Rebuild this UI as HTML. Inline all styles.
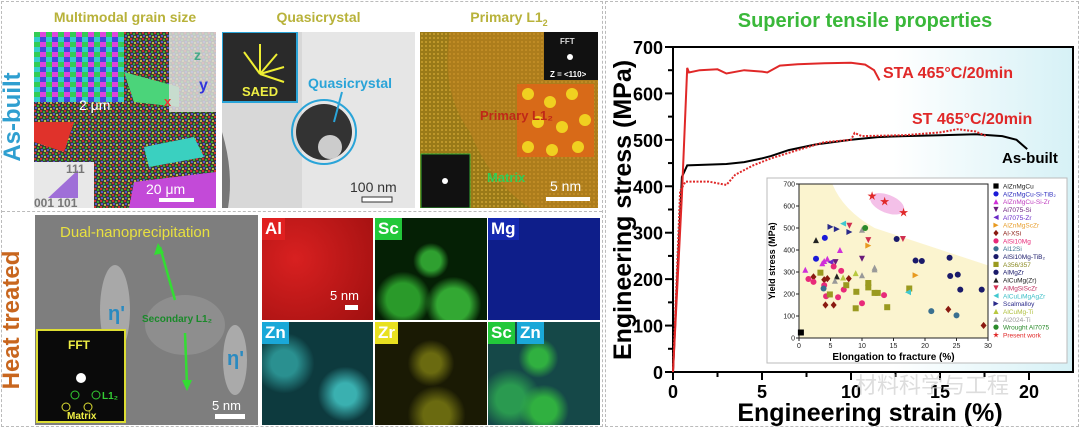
<!DOCTYPE html>
<html><head><meta charset="utf-8">
<style>
body{margin:0;width:1080px;height:429px;overflow:hidden;background:#fff;font-family:"Liberation Sans",Arial,sans-serif;position:relative}
.a{position:absolute}
.lbl{position:absolute;top:0;font-weight:bold;color:#fff;font-size:17px;padding:0 3px;line-height:22px}
</style></head><body>
<div class="a" style="left:1px;top:1px;width:600px;height:424px;border:1px dashed #bbb"></div>
<div class="a" style="left:2px;top:211px;width:600px;border-top:1px dashed #bbb"></div>
<div class="a" style="left:605px;top:1px;width:472px;height:424px;border:1px dashed #bbb"></div>

<div class="a" style="left:-42px;top:103px;width:110px;transform:rotate(-90deg);text-align:center;color:#2f9fd0;font-weight:bold;font-size:24px">As-built</div>
<div class="a" style="left:-58px;top:306px;width:140px;transform:rotate(-90deg);text-align:center;color:#c8661e;font-weight:bold;font-size:24px">Heat treated</div>

<div class="a" style="left:34px;top:9px;width:182px;text-align:center;color:#b8b23a;font-weight:bold;font-size:14px">Multimodal grain size</div>
<div class="a" style="left:222px;top:9px;width:193px;text-align:center;color:#b8b23a;font-weight:bold;font-size:14px">Quasicrystal</div>
<div class="a" style="left:420px;top:9px;width:178px;text-align:center;color:#b8b23a;font-weight:bold;font-size:14px">Primary L1<sub style="font-size:9px">2</sub></div>

<!-- EBSD -->
<svg class="a" style="left:34px;top:32px" width="182" height="176">
<defs><pattern id="spk" width="6" height="6" patternUnits="userSpaceOnUse"><rect width="6" height="6" fill="#3d3d35"/><rect x="0" y="0" width="2" height="2" fill="#c33"/><rect x="3" y="1" width="2" height="2" fill="#3a3"/><rect x="1" y="3" width="2" height="2" fill="#55c"/><rect x="4" y="4" width="2" height="2" fill="#bb4"/></pattern>
<pattern id="grn" width="12" height="10" patternUnits="userSpaceOnUse"><rect width="12" height="10" fill="#d43"/><rect x="0" y="0" width="6" height="5" fill="#3c5"/><rect x="6" y="5" width="6" height="5" fill="#44d"/><rect x="6" y="0" width="6" height="5" fill="#d4d"/><rect x="0" y="5" width="6" height="5" fill="#3cc"/></pattern></defs>
<rect width="182" height="176" fill="url(#spk)"/>
<rect width="90" height="70" fill="url(#grn)"/>
<path d="M90 40 L145 55 L145 75 L100 70Z" fill="#4bd47a"/>
<path d="M110 115 L160 105 L170 125 L115 135Z" fill="#3ad0c0"/>
<path d="M0 90 L40 90 L30 120 L0 110Z" fill="#e0322b"/>
<path d="M100 150 L182 140 L182 176 L95 176Z" fill="#c34ad8"/>
<rect x="135" y="0" width="47" height="80" fill="#ddd" opacity=".85"/>
<rect x="0" y="130" width="60" height="46" fill="#e8e8e8"/>
<path d="M14 166 L44 138 L44 166Z" fill="#9f6fd8"/>
<text x="160" y="28" fill="#4a8" font-size="14" font-weight="bold">z</text>
<text x="165" y="58" fill="#33d" font-size="16" font-weight="bold">y</text>
<text x="130" y="74" fill="#e33" font-size="13" font-weight="bold">x</text>
<text x="45" y="78" fill="#fff" font-size="14">2 μm</text>
<text x="32" y="141" fill="#777" font-size="12" font-weight="bold">111</text>
<text x="0" y="175" fill="#777" font-size="12" font-weight="bold">001 101</text>
<text x="112" y="162" fill="#fff" font-size="14">20 μm</text>
<rect x="125" y="166" width="35" height="4" fill="#fff"/>
</svg>

<!-- Quasicrystal -->
<svg class="a" style="left:222px;top:32px" width="193" height="176">
<rect width="193" height="176" fill="#d8d8d8"/>
<rect x="80" y="0" width="113" height="176" fill="#e6e6e6"/>
<path d="M0 100 Q12 140 6 176 L0 176Z" fill="#777"/>
<circle cx="102" cy="100" r="28" fill="#333"/><circle cx="108" cy="115" r="12" fill="#ccc"/>
<circle cx="102" cy="100" r="32" fill="none" stroke="#2aa4d8" stroke-width="2"/>
<rect x="0" y="0" width="75" height="70" fill="#2a2a2a" stroke="#2aa4d8" stroke-width="2"/>
<g stroke="#ee3" stroke-width="2"><line x1="38" y1="42" x2="22" y2="20"/><line x1="38" y1="42" x2="38" y2="12"/><line x1="38" y1="42" x2="55" y2="22"/><line x1="38" y1="42" x2="62" y2="35"/><line x1="38" y1="42" x2="62" y2="50"/></g>
<text x="20" y="64" fill="#ee4" font-size="13" font-weight="bold">SAED</text>
<text x="86" y="56" fill="#2aa4d8" font-size="14" font-weight="bold">Quasicrystal</text>
<line x1="120" y1="60" x2="112" y2="90" stroke="#2aa4d8" stroke-width="2"/>
<text x="128" y="160" fill="#333" font-size="14">100 nm</text>
<rect x="140" y="165" width="30" height="5" fill="#fff" stroke="#333"/>
</svg>

<!-- Primary L12 -->
<svg class="a" style="left:420px;top:32px" width="178" height="176">
<defs><pattern id="lat" width="4" height="4" patternUnits="userSpaceOnUse"><rect width="4" height="4" fill="#9a7a18"/><circle cx="2" cy="2" r="1" fill="#c9a030"/></pattern></defs>
<rect width="178" height="176" fill="url(#lat)"/>
<path d="M30 0 Q20 60 50 100 Q70 150 110 176 L178 176 L178 0Z" fill="#c08020" opacity=".5"/>
<rect x="124" y="0" width="54" height="48" fill="#111"/>
<text x="140" y="12" fill="#ddd" font-size="8" font-weight="bold">FFT</text>
<text x="130" y="45" fill="#fff" font-size="8" font-weight="bold">Z = &lt;110&gt;</text>
<circle cx="150" cy="25" r="3" fill="#fff"/>
<rect x="97" y="52" width="77" height="73" fill="#d86a18"/>
<g fill="#f0d020"><circle cx="108" cy="62" r="6"/><circle cx="130" cy="70" r="6"/><circle cx="152" cy="62" r="6"/><circle cx="118" cy="90" r="6"/><circle cx="142" cy="95" r="6"/><circle cx="165" cy="88" r="6"/><circle cx="108" cy="115" r="6"/><circle cx="132" cy="118" r="6"/><circle cx="158" cy="115" r="6"/></g>
<text x="60" y="88" fill="#c02818" font-size="13" font-weight="bold">Primary L1₂</text>
<rect x="1" y="122" width="49" height="54" fill="#111" stroke="#3a3" stroke-width="1"/>
<circle cx="25" cy="149" r="3" fill="#fff"/>
<text x="67" y="150" fill="#3c5" font-size="13" font-weight="bold">Matrix</text>
<text x="130" y="159" fill="#fff" font-size="14">5 nm</text>
<rect x="126" y="165" width="44" height="4" fill="#fff"/>
</svg>

<!-- HAADF -->
<svg class="a" style="left:35px;top:215px" width="223" height="210">
<rect width="223" height="210" fill="#7e7e7e"/>
<ellipse cx="80" cy="95" rx="15" ry="45" fill="#a8a8a8"/><ellipse cx="200" cy="145" rx="12" ry="35" fill="#aaa"/>
<ellipse cx="150" cy="110" rx="40" ry="30" fill="#8e8e8e"/>
<text x="25" y="22" fill="#e8e040" font-size="15">Dual-nanoprecipitation</text>
<line x1="140" y1="85" x2="125" y2="32" stroke="#3d3" stroke-width="2.5"/><path d="M123 28 L119 40 L129 38Z" fill="#3d3"/>
<line x1="150" y1="118" x2="152" y2="170" stroke="#3d3" stroke-width="2.5"/><path d="M152 176 L147 165 L157 165Z" fill="#3d3"/>
<text x="107" y="107" fill="#1a8a2a" font-size="10" font-weight="bold">Secondary L1₂</text>
<text x="73" y="105" fill="#2a8ac0" font-size="20" font-weight="bold">η'</text>
<text x="192" y="150" fill="#2a8ac0" font-size="20" font-weight="bold">η'</text>
<rect x="2" y="115" width="88" height="92" fill="#0a0a0a" stroke="#dd3" stroke-width="2"/>
<text x="33" y="134" fill="#ee4" font-size="12" font-weight="bold">FFT</text>
<circle cx="46" cy="163" r="5" fill="#fff"/>
<circle cx="40" cy="180" r="4" fill="none" stroke="#3c3"/><circle cx="61" cy="180" r="4" fill="none" stroke="#3c3"/>
<circle cx="31" cy="192" r="4" fill="none" stroke="#dd3"/><circle cx="53" cy="192" r="4" fill="none" stroke="#dd3"/>
<text x="67" y="184" fill="#3c3" font-size="10" font-weight="bold">L1₂</text>
<text x="32" y="204" fill="#ee4" font-size="10" font-weight="bold">Matrix</text>
<text x="177" y="195" fill="#fff" font-size="13">5 nm</text>
<rect x="180" y="199" width="30" height="5" fill="#fff"/>
</svg>

<!-- EDS maps -->
<div class="a" style="left:262px;top:218px;width:111px;height:102px;background:radial-gradient(circle at 30% 40%,#d82020,#a01010)"><span class="lbl" style="left:0;background:#e02020">Al</span>
<span class="a" style="left:68px;top:70px;color:#fff;font-size:13px">5 nm</span><span class="a" style="left:83px;top:87px;width:13px;height:5px;background:#fff"></span></div>
<div class="a" style="left:375px;top:218px;width:112px;height:102px;background:radial-gradient(circle at 50% 42%,#2fa030 12%,transparent 22%),radial-gradient(circle at 25% 80%,#2a9a2a 14%,transparent 24%),radial-gradient(circle at 70% 85%,#33a833 14%,transparent 24%),#052005"><span class="lbl" style="left:0;background:#22c83a">Sc</span></div>
<div class="a" style="left:488px;top:218px;width:112px;height:102px;background:#0e1e8a"><span class="lbl" style="left:0;background:#1428b0">Mg</span></div>
<div class="a" style="left:262px;top:322px;width:111px;height:103px;background:radial-gradient(circle at 75% 70%,#3ab0b0 10%,transparent 25%),radial-gradient(circle at 20% 40%,#2a9090 12%,transparent 28%),#0d3a3e"><span class="lbl" style="left:0;background:#1aa8d8">Zn</span></div>
<div class="a" style="left:375px;top:322px;width:112px;height:103px;background:radial-gradient(circle at 50% 40%,#6a6a10 12%,transparent 28%),radial-gradient(circle at 55% 90%,#6a6a10 12%,transparent 26%),#1a1a04"><span class="lbl" style="left:0;background:#e8e020">Zr</span></div>
<div class="a" style="left:488px;top:322px;width:112px;height:103px;background:radial-gradient(circle at 45% 35%,#30b040 10%,transparent 22%),radial-gradient(circle at 50% 85%,#30b040 12%,transparent 24%),radial-gradient(circle at 20% 75%,#2a9a50 12%,transparent 26%),#154848"><span class="lbl" style="left:0;background:#22c83a">Sc</span><span class="lbl" style="left:29px;background:#1aa8d8">Zn</span></div>

<!-- Chart -->
<svg class="a" id="chart" style="left:0;top:0" width="1080" height="429">
<defs><linearGradient id="bg" x1="0" x2="1"><stop offset="0.55" stop-color="#fff"/><stop offset="1" stop-color="#d6f1f6"/></linearGradient></defs>
<rect x="673" y="47" width="400" height="325" fill="url(#bg)"/>
<text x="865" y="27" text-anchor="middle" fill="#3ab83a" font-size="20" font-weight="bold">Superior tensile properties</text>
<g id="main"></g>
<g id="inset"></g>
<text x="855" y="393" fill="#cfcfcf" fill-opacity=".7" font-size="22" font-family="'Liberation Sans','Noto Sans CJK SC',sans-serif">材料科学与工程</text>
<text x="870" y="421" text-anchor="middle" font-size="25" font-weight="bold">Engineering strain (%)</text>
<text transform="translate(631,210) rotate(-90)" text-anchor="middle" font-size="25" font-weight="bold">Engineering stress (MPa)</text>
<text x="883" y="78" fill="#e02828" font-size="16" font-weight="bold">STA 465°C/20min</text>
<text x="912" y="124" fill="#e02828" font-size="16" font-weight="bold">ST 465°C/20min</text>
<text x="1002" y="163" fill="#000" font-size="15" font-weight="bold">As-built</text>
</svg>

<script>
const xTicks=[0,5,10,15,20];
const yTicks=[0,100,200,300,400,500,600,700];
const staStrain=[0,0.5,0.8,0.9,1.5,2.5,3,4,5,5.3,6,7,8.5,10,10.8,11.3,11.6];
const staStress=[0,380,655,645,650,652,643,650,647,645,660,663,665,666,662,650,628];
const stStrain=[0,0.4,0.7,2,3,3.5,4.5,5.5,7,8.5,10,10.2,10.6,13,15,16,17,17.6];
const stStress=[0,390,410,410,403,425,445,460,478,495,500,515,508,510,516,523,518,508];
const abStrain=[0,0.5,0.8,3,4,5,5.5,6.5,8,10,11.5,13,15,17,18.5,19.3,19.9];
const abStress=[0,420,445,448,452,460,465,478,490,500,506,508,510,512,508,500,480];

const insetX=[0,5,10,15,20,25,30];
const insetY=[0,100,200,300,400,500,600,700];
const legendNames=["AlZnMgCu","AlZnMgCu-Si-TiB₂","AlZnMgCu-Si-Zr","Al7075-Si","Al7075-Zr","AlZnMgScZr","Al-XSi","AlSi10Mg","Al12Si","AlSi10Mg-TiB₂","A356/357","AlMgZr","AlCuMg(Zr)","AlMgSiScZr","AlCuLiMgAgZr","Scalmalloy","AlCuMg-Ti","Al2024-Ti","Wrought Al7075","Present work"];
const pElong=[0.3,2.7,4.1,1,3.7,4,4.5,6.5,5.8,10,5,11,18.5,2.3,4,4.2,5.5,4.5,7.9,23.7,29.3,1.5,2.3,4.3,5.5,6.2,6.7,7.1,10,13.5,4,3.9,21,25,15.5,3.4,4.9,9.1,9,11,11,12,12.5,14,17.5,7.5,18.5,19.5,23.9,24,25.2,25.6,29,2.7,6,8,11,16.5,7,17.3,5,6,8,9,7,10,12,12,10,5.7,10.5,11.6,13.6,16.6];
const pYield=[25,360,455,310,340,350,360,400,345,360,345,420,285,278,265,150,150,270,270,130,57,268,255,190,325,185,305,220,158,195,240,225,122,103,450,297,198,210,135,250,230,205,205,140,225,240,352,350,365,282,288,220,220,445,280,510,445,450,520,208,505,495,482,295,275,285,320,312,492,260,500,645,620,570];
const pSeries=[0,1,1,2,2,2,2,2,3,3,4,5,5,6,6,6,6,6,6,6,6,7,7,7,7,7,7,7,7,7,7,8,8,8,9,10,10,10,10,10,10,10,10,10,10,10,11,11,11,11,11,11,11,12,12,13,13,13,14,14,15,15,15,16,16,17,17,17,17,17,18,19,19,19];
const sColor=["#000","#1a1ad8","#d030d8","#6a1a7a","#6a2ac8","#e89a20","#8a1a10","#e82a7a","#3a7090","#1a1a6a","#9a9a20","#1a1a6a","#222","#d03050","#40c8d0","#2a2a8a","#b8c840","#999","#2a8a2a","#e02828"];
const sShape=["sq","ci","tu","td","tl","tr","di","ci","ci","hc","sq","hc","tu","td","tl","tr","tu","tu","hc","st"];
const sTextColor=["#222","#3030c0","#c040c0","#6a1a7a","#6a2ac8","#e8a030","#8a1a10","#e82a7a","#3a7090","#1a1a6a","#8a8a20","#1a1a6a","#222","#c03060","#40c0c8","#2a2a8a","#b0c040","#999","#2a8a2a","#e02828"];

const NS="http://www.w3.org/2000/svg";
function mk(tag,attrs,parent){const e=document.createElementNS(NS,tag);for(const k in attrs)e.setAttribute(k,attrs[k]);parent.appendChild(e);return e;}
const X=v=>673+v*17.8, Y=v=>372-v*0.4643;
const main=document.getElementById('main');
mk('rect',{x:673,y:47,width:400,height:325,fill:'none',stroke:'#000','stroke-width':2},main);
xTicks.forEach(t=>{const l=mk('line',{x1:X(t),x2:X(t),y1:372,y2:380,stroke:'#000','stroke-width':2},main);


const tx=mk('text',{x:X(t),y:398,'text-anchor':'middle','font-size':18,'font-weight':'bold'},main);tx.textContent=t;

});
for(let t=2.5;t<=22;t+=5){mk('line',{x1:X(t),x2:X(t),y1:372,y2:377,stroke:'#000','stroke-width':2},main);}
yTicks.forEach(t=>{const l=mk('line',{x1:665,x2:673,y1:Y(t),y2:Y(t),stroke:'#000','stroke-width':2},main);


const tx=mk('text',{x:663,y:Y(t)+7,'text-anchor':'end','font-size':18,'font-weight':'bold'},main);tx.textContent=t;

});
for(let t=50;t<700;t+=100){mk('line',{x1:668,x2:673,y1:Y(t),y2:Y(t),stroke:'#000','stroke-width':2},main);}
function curve(xs,ys,color,dash,name){const d=xs.map((x,i)=>(i?'L':'M')+X(x).toFixed(1)+' '+Y(ys[i]).toFixed(1)).join(' ');
const p=mk('path',{d:d,fill:'none',stroke:color,'stroke-width':2,'stroke-dasharray':dash},main);

}
curve(abStrain,abStress,'#000','none','as-built-curve');
curve(stStrain,stStress,'#e02828','2 1.5','st-curve');
curve(staStrain,staStress,'#e02828','none','sta-curve');

const ins=document.getElementById('inset');
const IX=v=>799+v*6.3, IY=v=>338-v*0.22;
const box=mk('rect',{x:767,y:178,width:300,height:185,fill:'#fff',stroke:'#bbb','stroke-width':1},ins);


mk('rect',{x:IX(0),y:IY(700),width:IX(30)-IX(0),height:IY(0)-IY(700),fill:'#fbf4cf'},ins);
mk('path',{d:`M${IX(5.3)} ${IY(700)} Q${IX(7)} ${IY(580)} ${IX(12)} ${IY(500)} L${IX(30)} ${IY(330)} L${IX(30)} ${IY(700)}Z`,fill:'#fff'},ins);
mk('ellipse',{cx:IX(14),cy:IY(610),rx:18,ry:9,transform:`rotate(22 ${IX(14)} ${IY(610)})`,fill:'#f4c0e8'},ins);
mk('rect',{x:IX(0),y:IY(700),width:IX(30)-IX(0),height:IY(0)-IY(700),fill:'none',stroke:'#222','stroke-width':1},ins);
insetX.forEach(t=>{mk('line',{x1:IX(t),x2:IX(t),y1:IY(0),y2:IY(0)+3,stroke:'#222'},ins);
const tx=mk('text',{x:IX(t),y:IY(0)+10,'text-anchor':'middle','font-size':7,fill:'#222'},ins);tx.textContent=t;

});
insetY.forEach(t=>{mk('line',{x1:IX(0)-3,x2:IX(0),y1:IY(t),y2:IY(t),stroke:'#222'},ins);
const tx=mk('text',{x:IX(0)-4,y:IY(t)+2.5,'text-anchor':'end','font-size':7,fill:'#222'},ins);tx.textContent=t;

});
const ixl=mk('text',{x:IX(15),y:360,'text-anchor':'middle','font-size':10,'font-weight':'bold'},ins);ixl.textContent='Elongation to fracture (%)';


const iyl=mk('text',{transform:`translate(775,${IY(350)}) rotate(-90)`,'text-anchor':'middle','font-size':9,'font-weight':'bold'},ins);iyl.textContent='Yield stress (MPa)';


function marker(shape,cx,cy,r,color){let a;
if(shape==='sq')a={tag:'rect',x:cx-r,y:cy-r,width:2*r,height:2*r};
else if(shape==='ci'||shape==='hc')a={tag:'circle',cx:cx,cy:cy,r:r};
else if(shape==='st'){let p=[];for(let i=0;i<10;i++){const ang=-Math.PI/2+i*Math.PI/5,rr=i%2?r*0.45:r*1.2;p.push((cx+rr*Math.cos(ang)).toFixed(1)+','+(cy+rr*Math.sin(ang)).toFixed(1));}a={tag:'polygon',points:p.join(' ')};}
else if(shape==='di')a={tag:'polygon',points:`${cx},${cy-r*1.2} ${cx+r},${cy} ${cx},${cy+r*1.2} ${cx-r},${cy}`};
else{const m={tu:[0,-1,1,1,-1,1],td:[0,1,1,-1,-1,-1],tl:[-1,0,1,-1,1,1],tr:[1,0,-1,-1,-1,1]}[shape];
a={tag:'polygon',points:`${cx+m[0]*r},${cy+m[1]*r} ${cx+m[2]*r},${cy+m[3]*r} ${cx+m[4]*r},${cy+m[5]*r}`};}
const tag=a.tag;delete a.tag;a.fill=color;return mk(tag,a,ins);}
pElong.forEach((x,i)=>{const s=pSeries[i];const m=marker(sShape[s],IX(x),IY(pYield[i]),s===19?4:3,sColor[s]);

});
legendNames.forEach((n,i)=>{const y=186+i*7.84;marker(sShape[i],996,y,2.6,sColor[i]);
const tx=mk('text',{x:1003,y:y+2.5,'font-size':6.5,fill:sTextColor[i]},ins);tx.textContent=n;

});
</script>
</body></html>
